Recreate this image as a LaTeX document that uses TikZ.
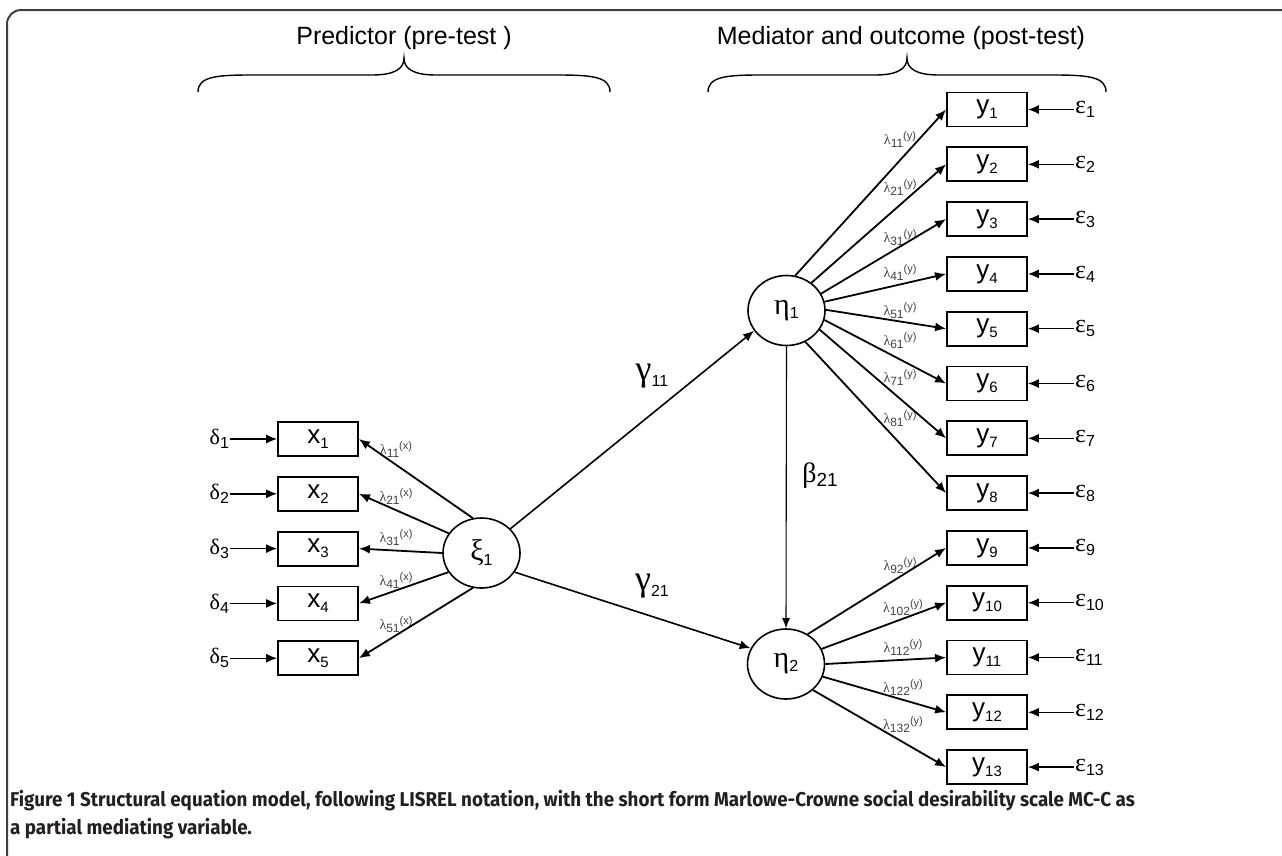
\documentclass[tikz,border=0pt]{standalone}
\usepackage{fontspec}
\setmainfont{Liberation Sans}
\newfontfamily\grk{Liberation Serif}
\newfontfamily\capfont[FakeStretch=0.94]{Fira Sans}
\usepackage{tikz}
\usetikzlibrary{positioning}
\usetikzlibrary{shapes.geometric}
\usetikzlibrary{arrows.meta}
\definecolor{frm}{RGB}{64,64,64}
\definecolor{lamgray}{RGB}{65,65,65}
\definecolor{captxt}{RGB}{35,31,32}

\newcommand{\fsz}[1]{\fontsize{#1}{#1}\selectfont}
\newcommand{\obs}[2]{#1\raisebox{-5pt}{\fsz{15}#2}}
\newcommand{\grsub}[4]{{\grk\fsz{#1}#2}\raisebox{-#4pt}{\fsz{16}#3}}
\newcommand{\lam}[2]{{\grk\fsz{14}λ}\raisebox{-3pt}{\fsz{12}#1}\raisebox{5pt}{\fsz{11}(#2)}}

\begin{document}
\begin{tikzpicture}[x=1pt, y=-1pt,
    obsbox/.style={draw, rectangle, line width=1.8pt, minimum width=80pt, minimum height=34pt, inner sep=0pt, font=\fsz{26}},
    latent/.style={draw, ellipse, line width=1.6pt, minimum width=77pt, minimum height=70pt, inner sep=0pt},
    errlab/.style={inner sep=1pt},
    lamlab/.style={inner sep=0pt, text=lamgray},
    head/.style={font=\fsz{25}},
    load/.style={-{Latex[length=11pt,width=9pt]}, line width=1.8pt},
    errarr/.style={-{Latex[length=11pt,width=9pt]}, line width=1.4pt},
    structarr/.style={-{Latex[length=11pt,width=9pt]}, line width=1.6pt},
    betaarr/.style={-{Latex[length=10pt,width=8pt]}, line width=1.1pt}]

    \useasboundingbox (0,0) rectangle (1282,855);

    % Frame
    \draw[frm, line width=2pt, rounded corners=14pt] (7,860) -- (7,10) -- (1290,10);

    % Titles
    \node (pred) [head] at (404,38) {Predictor (pre-test )};
    \node (med) [head] at (901,38) {Mediator and outcome (post-test)};

    % Braces
    \draw[line width=1.4pt] (198,92) .. controls (198,77) and (215,75) .. (250,75) -- (372,75)
        .. controls (396,75) and (404,68) .. (404,58) .. controls (404,68) and (412,75) .. (436,75)
        -- (558,75) .. controls (593,75) and (610,77) .. (610,92);
    \draw[line width=1.4pt] (708,92) .. controls (708,77) and (725,75) .. (760,75) -- (875,75)
        .. controls (899,75) and (907,68) .. (907,58) .. controls (907,68) and (915,75) .. (939,75)
        -- (1054,75) .. controls (1089,75) and (1106,77) .. (1106,92);

    % Predictor
    \node (xi1) [latent] at (481.5,553) {\grsub{30}{ξ}{1}{5}};
    \node (x1) [obsbox] at (318,439) {\obs{x}{1}};
    \node (x2) [obsbox, below=19pt of x1] {\obs{x}{2}};
    \node (x3) [obsbox, below=19pt of x2] {\obs{x}{3}};
    \node (x4) [obsbox, below=19pt of x3] {\obs{x}{4}};
    \node (x5) [obsbox, below=19pt of x4] {\obs{x}{5}};
    \node (d1) [errlab, left=47pt of x1] {\grsub{22}{δ}{1}{4}};
    \node (d2) [errlab, left=47pt of x2] {\grsub{22}{δ}{2}{4}};
    \node (d3) [errlab, left=47pt of x3] {\grsub{22}{δ}{3}{4}};
    \node (d4) [errlab, left=47pt of x4] {\grsub{22}{δ}{4}{4}};
    \node (d5) [errlab, left=47pt of x5] {\grsub{22}{δ}{5}{4}};

    % Mediator and outcome
    \node (eta1) [latent] at (786.5,310.5) {\grsub{30}{η}{1}{4}};
    \node (eta2) [latent] at (786,664) {\grsub{30}{η}{2}{4}};
    \node (y1) [obsbox] at (987,109.5) {\obs{y}{1}};
    \node (y2) [obsbox, below=19pt of y1] {\obs{y}{2}};
    \node (y3) [obsbox, below=19pt of y2] {\obs{y}{3}};
    \node (y4) [obsbox, below=19pt of y3] {\obs{y}{4}};
    \node (y5) [obsbox, below=19pt of y4] {\obs{y}{5}};
    \node (y6) [obsbox, below=19pt of y5] {\obs{y}{6}};
    \node (y7) [obsbox, below=19pt of y6] {\obs{y}{7}};
    \node (y8) [obsbox, below=19pt of y7] {\obs{y}{8}};
    \node (y9) [obsbox, below=19pt of y8] {\obs{y}{9}};
    \node (y10) [obsbox, below=19pt of y9] {\obs{y}{10}};
    \node (y11) [obsbox, below=19pt of y10] {\obs{y}{11}};
    \node (y12) [obsbox, below=19pt of y11] {\obs{y}{12}};
    \node (y13) [obsbox, below=19pt of y12] {\obs{y}{13}};
    \node (e1) [errlab, right=46pt of y1] {\grsub{26}{ε}{1}{4}};
    \node (e2) [errlab, right=46pt of y2] {\grsub{26}{ε}{2}{4}};
    \node (e3) [errlab, right=46pt of y3] {\grsub{26}{ε}{3}{4}};
    \node (e4) [errlab, right=46pt of y4] {\grsub{26}{ε}{4}{4}};
    \node (e5) [errlab, right=46pt of y5] {\grsub{26}{ε}{5}{4}};
    \node (e6) [errlab, right=46pt of y6] {\grsub{26}{ε}{6}{4}};
    \node (e7) [errlab, right=46pt of y7] {\grsub{26}{ε}{7}{4}};
    \node (e8) [errlab, right=46pt of y8] {\grsub{26}{ε}{8}{4}};
    \node (e9) [errlab, right=46pt of y9] {\grsub{26}{ε}{9}{4}};
    \node (e10) [errlab, right=46pt of y10] {\grsub{26}{ε}{10}{4}};
    \node (e11) [errlab, right=46pt of y11] {\grsub{26}{ε}{11}{4}};
    \node (e12) [errlab, right=46pt of y12] {\grsub{26}{ε}{12}{4}};
    \node (e13) [errlab, right=46pt of y13] {\grsub{26}{ε}{13}{4}};

    % Path labels
    \node (g11) at (652,376) {\grsub{36}{γ}{11}{6}};
    \node (g21) at (652,586) {\grsub{36}{γ}{21}{6}};
    \node (b21) at (820,476) {{\grk\fsz{28}β}\raisebox{-4pt}{\fsz{19}21}};

    % Loadings
    \node (lx1) [lamlab] at (396,450) {\lam{11}{x}};
    \node (lx2) [lamlab] at (396,497) {\lam{21}{x}};
    \node (lx3) [lamlab] at (396,538) {\lam{31}{x}};
    \node (lx4) [lamlab] at (396,581) {\lam{41}{x}};
    \node (lx5) [lamlab] at (396,625) {\lam{51}{x}};
    \node (ly1) [lamlab] at (900,140) {\lam{11}{y}};
    \node (ly2) [lamlab] at (900,188) {\lam{21}{y}};
    \node (ly3) [lamlab] at (900,238) {\lam{31}{y}};
    \node (ly4) [lamlab] at (900,273) {\lam{41}{y}};
    \node (ly5) [lamlab] at (900,311) {\lam{51}{y}};
    \node (ly6) [lamlab] at (900,341) {\lam{61}{y}};
    \node (ly7) [lamlab] at (900,378) {\lam{71}{y}};
    \node (ly8) [lamlab] at (900,419) {\lam{81}{y}};
    \node (ly9) [lamlab] at (900,566) {\lam{92}{y}};
    \node (ly10) [lamlab] at (903,608) {\lam{102}{y}};
    \node (ly11) [lamlab] at (903,648) {\lam{112}{y}};
    \node (ly12) [lamlab] at (903,688) {\lam{122}{y}};
    \node (ly13) [lamlab] at (903,725) {\lam{132}{y}};

    % Arrows
    \draw[errarr] (d1.east) -- (x1.west);
    \draw[errarr] (d2.east) -- (x2.west);
    \draw[errarr] (d3.east) -- (x3.west);
    \draw[errarr] (d4.east) -- (x4.west);
    \draw[errarr] (d5.east) -- (x5.west);
    \draw[load] (xi1.104) -- (x1.east);
    \draw[load] (xi1.149) -- (x2.east);
    \draw[load] (xi1.180) -- (x3.east);
    \draw[load] (xi1.210) -- (x4.east);
    \draw[load] (xi1.256) -- (x5.east);
    \draw[structarr] (xi1.40) -- (eta1.212);
    \draw[structarr] (xi1.-30) -- (eta2.156);
    \draw[betaarr] (eta1.south) -- (eta2.north);
    \draw[load] (eta1.76) -- (y1.west);
    \draw[load] (eta1.48) -- (y2.west);
    \draw[load] (eta1.26) -- (y3.west);
    \draw[load] (eta1.13) -- (y4.west);
    \draw[load] (eta1.1) -- (y5.west);
    \draw[load] (eta1.-14) -- (y6.west);
    \draw[load] (eta1.-30) -- (y7.west);
    \draw[load] (eta1.-59) -- (y8.west);
    \draw[load] (eta2.54) -- (y9.west);
    \draw[load] (eta2.23) -- (y10.west);
    \draw[load] (eta2.0) -- (y11.west);
    \draw[load] (eta2.-19) -- (y12.west);
    \draw[load] (eta2.-44) -- (y13.west);
    \draw[errarr] (e1.west) -- (y1.east);
    \draw[errarr] (e2.west) -- (y2.east);
    \draw[errarr] (e3.west) -- (y3.east);
    \draw[errarr] (e4.west) -- (y4.east);
    \draw[errarr] (e5.west) -- (y5.east);
    \draw[errarr] (e6.west) -- (y6.east);
    \draw[errarr] (e7.west) -- (y7.east);
    \draw[errarr] (e8.west) -- (y8.east);
    \draw[errarr] (e9.west) -- (y9.east);
    \draw[errarr] (e10.west) -- (y10.east);
    \draw[errarr] (e11.west) -- (y11.east);
    \draw[errarr] (e12.west) -- (y12.east);
    \draw[errarr] (e13.west) -- (y13.east);

    % Caption
    \node (capt) [anchor=north west, inner sep=0pt, align=left, text=captxt,
        font=\capfont\bfseries\fontsize{20}{28}\selectfont] at (10,790)
        {Figure 1 Structural equation model, following LISREL notation, with the short form Marlowe-Crowne social desirability scale MC-C as\\a partial mediating variable.};

\end{tikzpicture}
\end{document}
